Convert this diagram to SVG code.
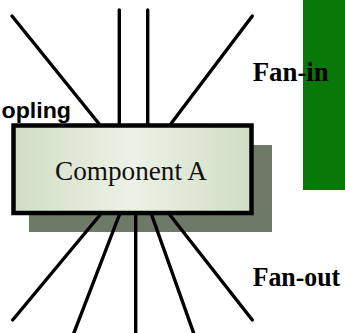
<svg xmlns="http://www.w3.org/2000/svg" width="345" height="333" viewBox="0 0 345 333">
  <style>
    .conn { stroke: #000; stroke-width: 3.4; stroke-linecap: round; fill: none; }
    .label { font-family: "Liberation Serif", "Times New Roman", serif; font-weight: bold; fill: #000; }
    .side { font-family: "Liberation Sans", Arial, sans-serif; font-weight: bold; fill: #000; }
  </style>
  <defs>
    <linearGradient id="boxFill" x1="0" y1="0" x2="1" y2="0">
      <stop offset="0" stop-color="#d0ddc4"/>
      <stop offset="0.5" stop-color="#ecf2e6"/>
      <stop offset="1" stop-color="#d0ddc4"/>
    </linearGradient>
  </defs>
  <rect width="345" height="333" fill="#ffffff"/>
  <g id="green-panel">
    <rect x="303" y="0" width="42" height="190" fill="#087808"/>
  </g>
  <g id="component-a">
    <rect x="29" y="145" width="243" height="87" fill="#6d7a67"/>
    <rect x="13.5" y="125.5" width="238" height="87.5" fill="url(#boxFill)" stroke="#000" stroke-width="4.5"/>
    <text x="55" y="179.5" font-family="'Liberation Serif', 'Times New Roman', serif" font-size="28" fill="#111" textLength="152" lengthAdjust="spacingAndGlyphs">Component A</text>
  </g>
  <g id="connectors">
    <line class="conn" x1="12" y1="16" x2="100" y2="125"/>
    <line class="conn" x1="119.3" y1="10" x2="119.3" y2="125"/>
    <line class="conn" x1="147.7" y1="10" x2="147.7" y2="125"/>
    <line class="conn" x1="252.3" y1="16" x2="170" y2="125"/>
    <line class="conn" x1="100" y1="215" x2="12.7" y2="320"/>
    <line class="conn" x1="119.3" y1="215" x2="73.5" y2="334"/>
    <line class="conn" x1="135.7" y1="215" x2="135.7" y2="334"/>
    <line class="conn" x1="151.7" y1="215" x2="194" y2="334"/>
    <line class="conn" x1="170" y1="215" x2="252.3" y2="320"/>
  </g>
  <g id="label-coupling">
    <text class="side" x="1.5" y="117.5" font-size="21.5" textLength="69.5" lengthAdjust="spacingAndGlyphs">opling</text>
  </g>
  <g id="label-fan-in">
    <text class="label" x="252.7" y="81" font-size="28" textLength="76" lengthAdjust="spacingAndGlyphs">Fan-in</text>
  </g>
  <g id="label-fan-out">
    <text class="label" x="252.7" y="285.5" font-size="27" textLength="87.5" lengthAdjust="spacingAndGlyphs">Fan-out</text>
  </g>
</svg>
